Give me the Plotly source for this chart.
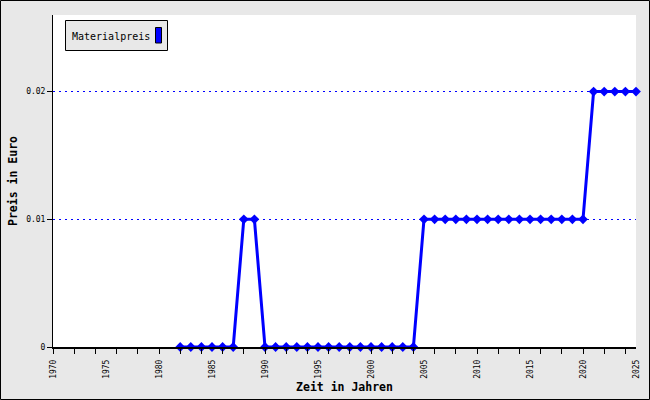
import plotly.graph_objects as go

years = list(range(1982, 2026))
prices = ([0.0] * 6 + [0.01] * 2 + [0.0] * 15 + [0.01] * 16 + [0.02] * 5)
series_name = "Materialpreis"
x_label_vals = list(range(1970, 2030, 5))
x_tick_marks = list(range(1970, 2026, 2))
y_tick_vals = [0, 0.01, 0.02]
y_tick_text = ["0", "0.01", "0.02"]

W, H = 650, 400
L, R, T, B = 53, 14, 15, 53
PW, PH = W - L - R, H - T - B

def px(x):
    return (x - L) / PW

def py(y):
    return (H - B - y) / PH

FONT = "DejaVu Sans Mono"

fig = go.Figure()
fig.add_trace(go.Scatter(
    x=years, y=prices, name=series_name, mode="lines+markers",
    line=dict(color="#0000ff", width=3),
    marker=dict(symbol="diamond", size=7.5, color="#0000ff"),
    cliponaxis=False, showlegend=False, xaxis="x", yaxis="y"))
# invisible trace to anchor the label axis
fig.add_trace(go.Scatter(x=[1970], y=[0], mode="markers", marker=dict(opacity=0),
                         showlegend=False, hoverinfo="skip", xaxis="x2", yaxis="y"))

fig.update_layout(
    width=W, height=H,
    margin=dict(l=L, r=R, t=T, b=B, autoexpand=False),
    paper_bgcolor="#e8e8e8", plot_bgcolor="#ffffff",
    font=dict(family=FONT, color="black", size=8),
    xaxis=dict(range=[1970, 2025], tickvals=x_tick_marks, showticklabels=False,
               ticks="outside", ticklen=5, tickwidth=1, tickcolor="black",
               showline=True, linecolor="black", linewidth=2, showgrid=False,
               zeroline=False),
    xaxis2=dict(range=[1970, 2025], overlaying="x", side="bottom", anchor="y",
                tickvals=x_label_vals, ticktext=[str(v) for v in x_label_vals],
                tickangle=-90, ticks="", ticklabelstandoff=10,
                showline=False, showgrid=False, zeroline=False,
                tickfont=dict(size=8, family=FONT),
                title=dict(text="<b>Zeit in Jahren</b>", font=dict(size=11.5, family=FONT),
                           standoff=5)),
    yaxis=dict(range=[0, 0.026], tickvals=y_tick_vals, ticktext=y_tick_text,
               ticks="outside", ticklen=5, tickwidth=1, tickcolor="black",
               showline=True, linecolor="black", linewidth=1,
               showgrid=True, gridcolor="rgb(0,0,255)", gridwidth=1.2, griddash="2px,4px",
               zeroline=False, tickfont=dict(size=8, family=FONT),
               title=dict(text="<b>Preis in Euro</b>", font=dict(size=11.5, family=FONT),
                          standoff=6)),
)

shapes = [
    # outer border
    dict(type="rect", xref="paper", yref="paper", x0=px(0.5), x1=px(649.5),
         y0=py(399.5), y1=py(0.5), line=dict(color="black", width=1), layer="above"),
    # legend box
    dict(type="rect", xref="paper", yref="paper", x0=px(65.5), x1=px(167.5),
         y0=py(50.5), y1=py(20.5), fillcolor="#e8e8e8",
         line=dict(color="black", width=1), layer="above"),
    # legend swatch
    dict(type="rect", xref="paper", yref="paper", x0=px(155.5), x1=px(161.5),
         y0=py(43), y1=py(27.5), fillcolor="#0000ff",
         line=dict(color="black", width=1), layer="above"),
]
fig.update_layout(shapes=shapes)
fig.add_annotation(xref="paper", yref="paper", x=px(70), y=py(36), xanchor="left",
                   yanchor="middle", text=series_name, showarrow=False,
                   font=dict(size=10, family=FONT, color="black"))

fig.write_html("out.html", config={"displayModeBar": False},
               post_script="document.body.style.margin='0';document.body.style.padding='0';")
